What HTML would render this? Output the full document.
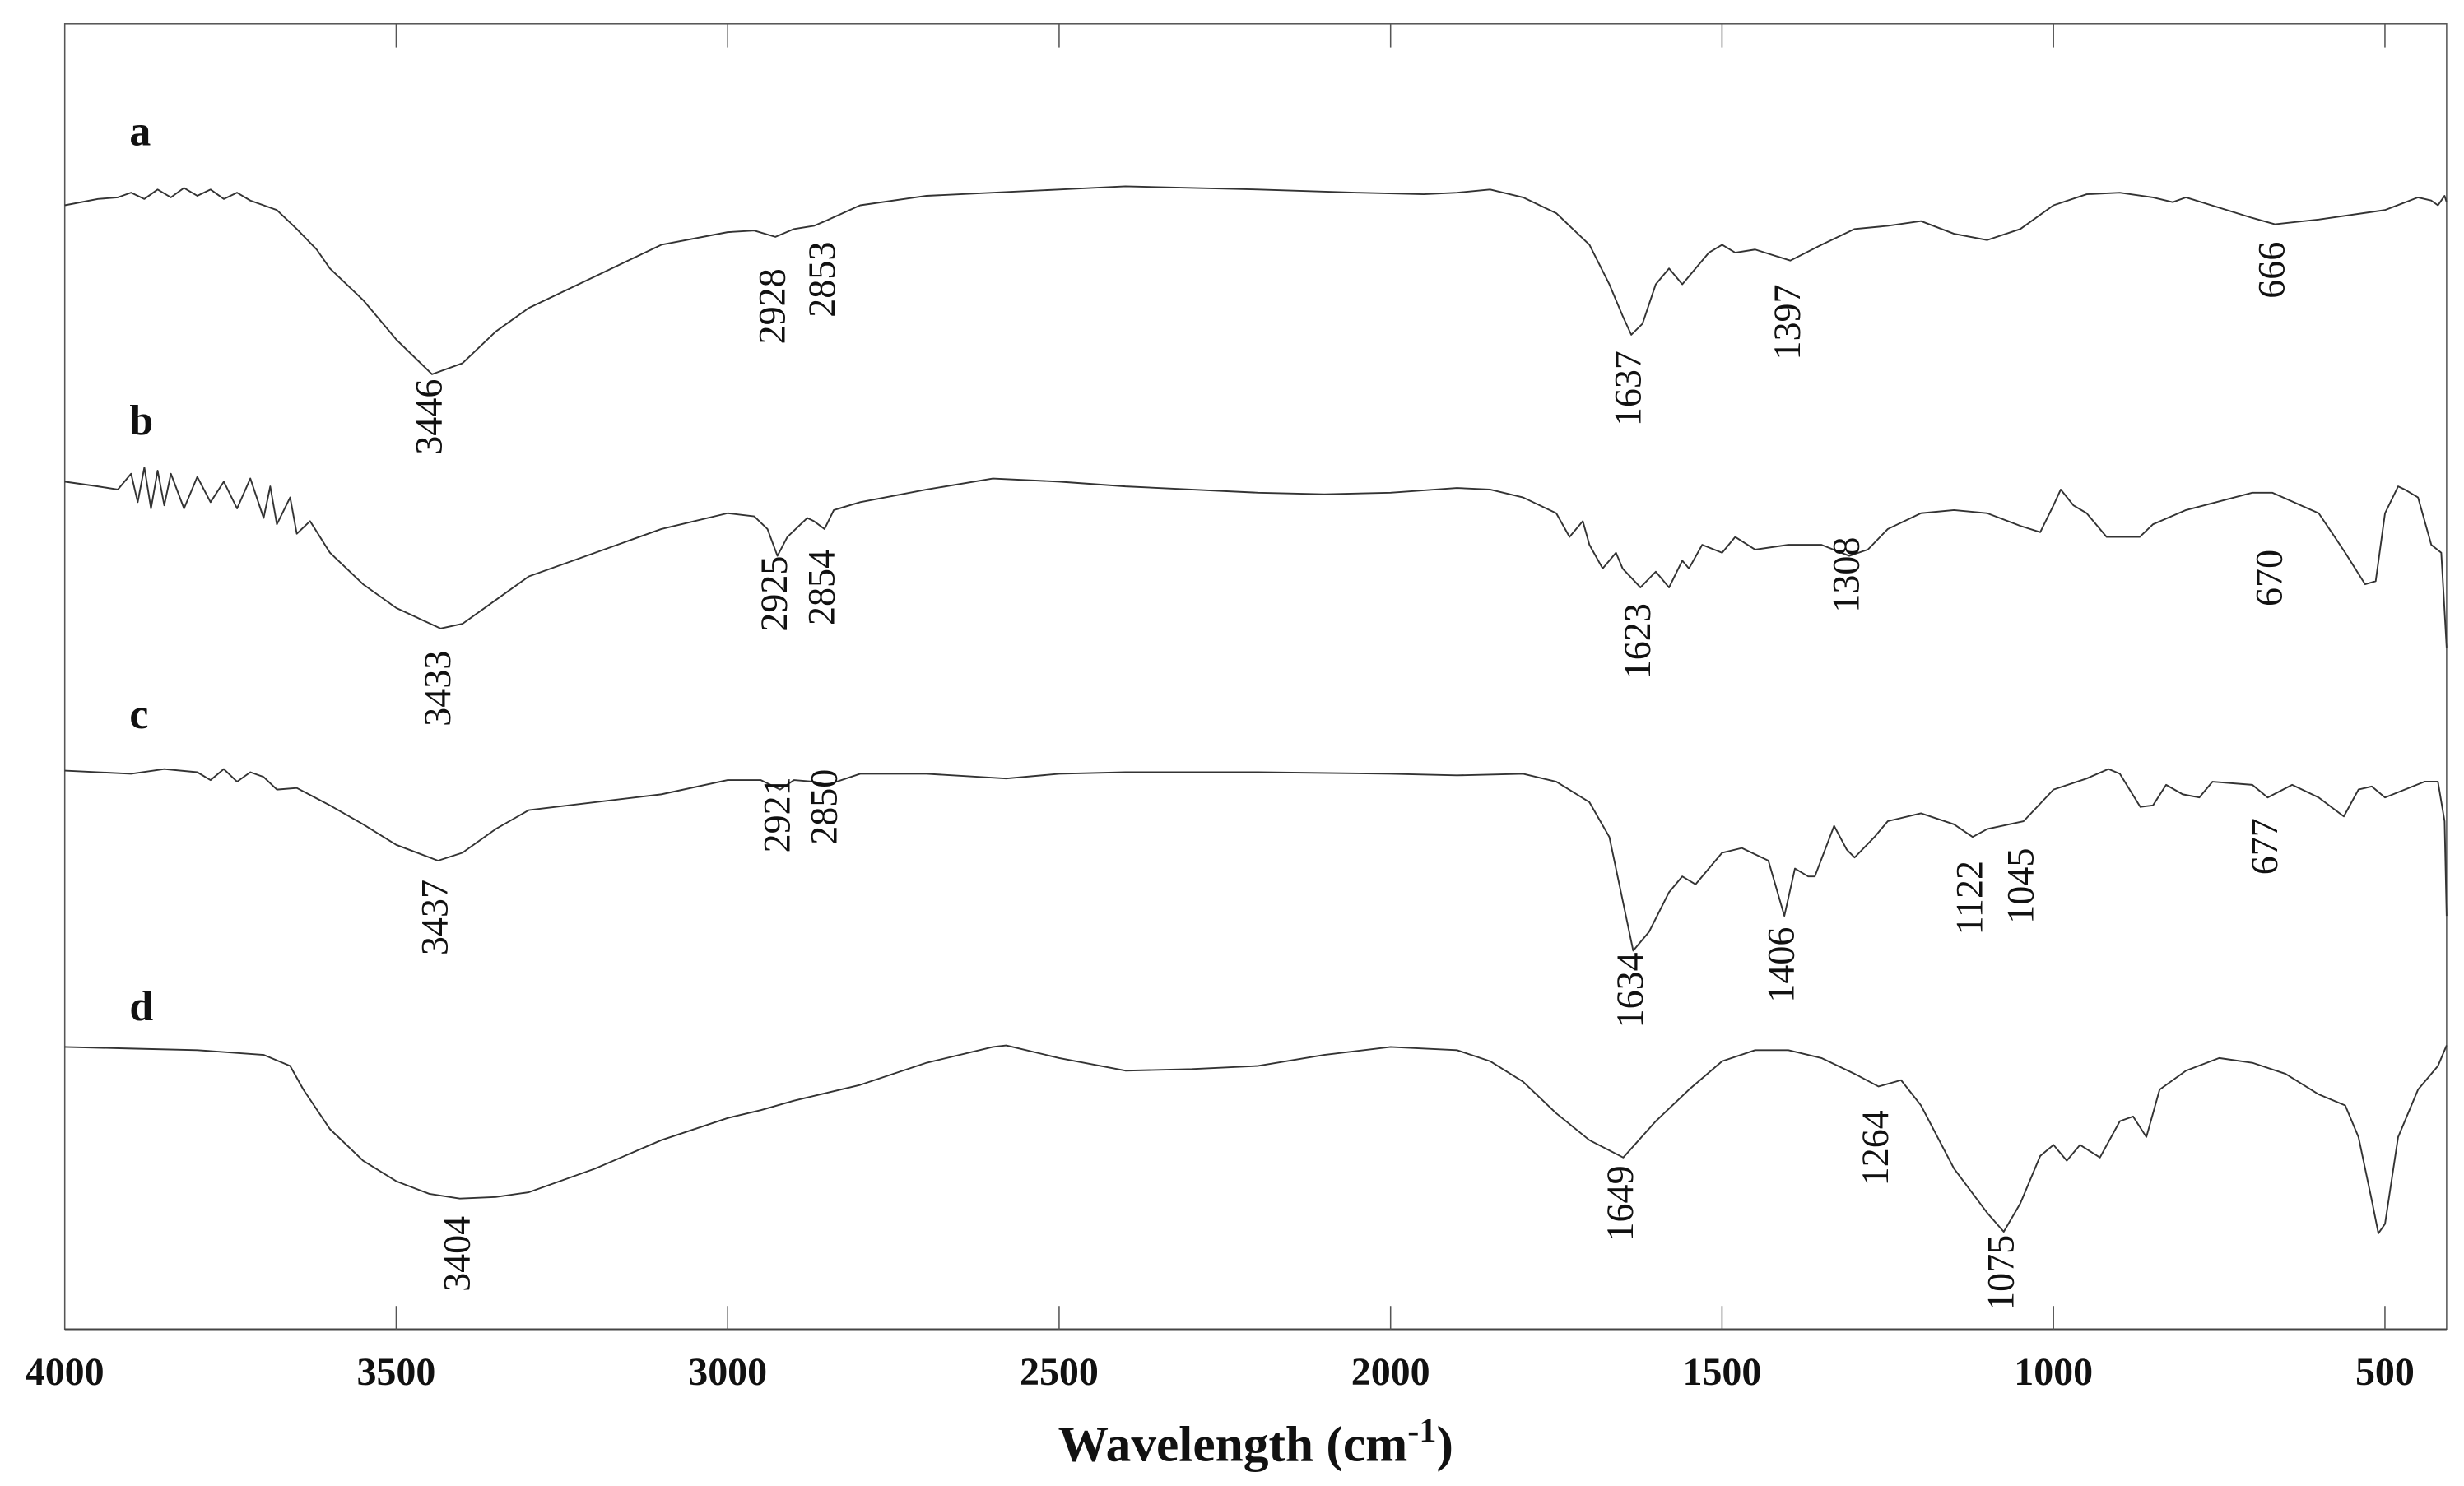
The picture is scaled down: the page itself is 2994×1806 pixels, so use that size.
<!DOCTYPE html>
<html><head><meta charset="utf-8"><style>
html,body{margin:0;padding:0;background:#fff;}
svg{display:block;}
</style></head><body>
<svg id="chart" width="2994" height="1806" viewBox="0 0 1560 941" xmlns="http://www.w3.org/2000/svg">
<rect x="0" y="0" width="1560" height="941" fill="#fff"/>
<g id="frame"></g>
<g id="series"></g>
<g id="labels"></g>
</svg>
<script>
const ticks=[3500,3000,2500,2000,1500,1000,500];
const tickLabels=["4000","3500","3000","2500","2000","1500","1000","500"];
const tickLabelValues=[4000,3500,3000,2500,2000,1500,1000,500];
const seriesNames=["a","b","c","d"];
// wavenumber / transmittance (arbitrary units) pairs per series
const waveA=[4000,3950,3920,3900,3880,3860,3840,3820,3800,3780,3760,3740,3720,3700,3680,3650,3620,3600,3550,3500,3446,3400,3350,3300,3200,3100,3000,2960,2928,2900,2870,2853,2800,2700,2500,2400,2200,2050,1950,1900,1850,1800,1750,1700,1670,1650,1637,1620,1600,1580,1560,1540,1520,1500,1480,1450,1397,1350,1300,1250,1200,1150,1100,1050,1000,950,900,850,820,800,700,666,600,500,450,430,420,410,407];
const valA=[77,77.4,77.5,77.8,77.4,78,77.5,78.1,77.6,78,77.4,77.8,77.3,77,76.7,75.5,74.2,73,71,68.5,66.3,67,69,70.5,72.5,74.5,75.3,75.4,75,75.5,75.7,76,77,77.6,78,78.2,78,77.8,77.7,77.8,78,77.5,76.5,74.5,72,70,68.8,69.5,72,73,72,73,74,74.5,74,74.2,73.5,74.5,75.5,75.7,76,75.2,74.8,75.5,77,77.7,77.8,77.5,77.2,77.5,76.2,75.8,76.1,76.7,77.5,77.3,77,77.6,77.2];
const waveB=[4000,3950,3920,3900,3890,3880,3870,3860,3850,3840,3820,3800,3780,3760,3740,3720,3700,3690,3680,3660,3650,3630,3600,3550,3500,3433,3400,3350,3300,3200,3100,3000,2960,2940,2925,2910,2880,2870,2854,2840,2800,2700,2600,2500,2400,2200,2100,2000,1900,1850,1800,1750,1730,1710,1700,1680,1660,1650,1623,1600,1580,1560,1550,1530,1500,1480,1450,1400,1350,1308,1280,1250,1200,1150,1100,1050,1020,1000,989,970,950,920,898,870,850,800,700,670,600,579,560,530,514,500,480,470,450,430,415,407];
const valB=[59.5,59.2,59,60,58.2,60.4,57.8,60.2,58,60,57.8,59.8,58.2,59.5,57.8,59.7,57.2,59.2,56.8,58.5,56.2,57,55,53,51.5,50.2,50.5,52,53.5,55,56.5,57.5,57.3,56.5,54.8,56,57.2,57,56.5,57.7,58.2,59,59.7,59.5,59.2,58.8,58.7,58.8,59.1,59,58.5,57.5,56,57,55.5,54,55,54,52.8,53.8,52.8,54.5,54,55.5,55,56,55.2,55.5,55.5,54.8,55.2,56.5,57.5,57.7,57.5,56.7,56.3,58,59,58,57.5,56,56,56,56.8,57.7,58.8,58.8,57.5,56.2,55,53,53.2,57.5,59.2,59,58.5,55.5,55,49];
const waveC=[4000,3900,3850,3800,3780,3760,3740,3720,3700,3680,3650,3600,3550,3500,3437,3400,3350,3300,3200,3100,3000,2950,2921,2900,2870,2850,2800,2700,2580,2500,2400,2200,2000,1900,1800,1750,1700,1670,1650,1634,1610,1580,1560,1540,1500,1470,1430,1406,1390,1370,1360,1331,1312,1300,1270,1250,1200,1150,1122,1100,1045,1000,950,917,900,869,850,830,805,780,760,700,677,640,600,562,540,520,500,470,440,420,410,407];
const valC=[41.2,41,41.3,41.1,40.6,41.3,40.5,41.1,40.8,40,40.1,39,37.8,36.5,35.5,36,37.5,38.7,39.2,39.7,40.6,40.6,40,40.6,40.5,40.3,41,41,40.7,41,41.1,41.1,41,40.9,41,40.5,39.2,37,33,29.8,31,33.5,34.5,34,36,36.3,35.5,32,35,34.5,34.5,37.7,36.2,35.7,37,38,38.5,37.8,37,37.5,38,40,40.7,41.3,41,38.9,39,40.3,39.7,39.5,40.5,40.3,39.5,40.3,39.5,38.3,40,40.2,39.5,40,40.5,40.5,38,32];
const waveD=[4000,3900,3800,3700,3660,3640,3600,3550,3500,3450,3404,3350,3300,3200,3100,3000,2950,2900,2800,2700,2600,2580,2500,2400,2300,2200,2100,2000,1900,1850,1800,1750,1700,1649,1600,1550,1500,1450,1400,1350,1300,1264,1230,1200,1150,1100,1075,1050,1020,1000,980,960,930,900,880,860,840,800,750,700,650,600,560,540,520,510,500,480,450,420,407];
const valD=[23.7,23.6,23.5,23.2,22.5,21,18.5,16.5,15.2,14.4,14.1,14.2,14.5,16,17.8,19.2,19.7,20.3,21.3,22.7,23.7,23.8,23,22.2,22.3,22.5,23.2,23.7,23.5,22.8,21.5,19.5,17.8,16.7,19,21,22.8,23.5,23.5,23,22,21.2,21.6,20,16,13.2,12,13.8,16.8,17.5,16.5,17.5,16.7,19,19.3,18,21,22.2,23,22.7,22,20.7,20,18,14,11.9,12.5,18,21,22.5,23.8];
const peakText=["3446","2928","2853","1637","1397","666","3433","2925","2854","1623","1308","670","3437","2921","2850","1634","1406","1122","1045","677","3404","1649","1264","1075"];
const peakWave=[3446,2928,2853,1637,1397,666,3433,2925,2854,1623,1308,670,3437,2921,2850,1634,1406,1122,1045,677,3404,1649,1264,1075];
const peakTop=[240,170,153,222,180,153,412,352,348,382,340,348,557,492,487,603,587,545,537,518,770,738,703,782];

const L=41,R=1549,T=15,B=842;
function xs(w){return L+(4000-w)*0.4197;}
function ys(v){return 900-v*10;}
const NS="http://www.w3.org/2000/svg";
function mk(tag,attrs,parent){const e=document.createElementNS(NS,tag);for(const k in attrs)e.setAttribute(k,attrs[k]);parent.appendChild(e);return e;}
const frame=document.getElementById('frame'),ser=document.getElementById('series'),lab=document.getElementById('labels');

const box=mk('rect',{x:L,y:T,width:R-L,height:B-T,fill:'none',stroke:'#555','stroke-width':0.8},frame);


const base=mk('line',{x1:L,y1:B,x2:R,y2:B,stroke:'#444','stroke-width':1.6},frame);


ticks.forEach(t=>{
  const a=mk('line',{x1:xs(t),y1:T,x2:xs(t),y2:T+15,stroke:'#555','stroke-width':0.8},frame);
  
  
  const b=mk('line',{x1:xs(t),y1:B,x2:xs(t),y2:B-15,stroke:'#555','stroke-width':0.8},frame);
  
  
});
tickLabels.forEach((s,i)=>{
  const t=mk('text',{x:xs(tickLabelValues[i]),y:877,'text-anchor':'middle','font-family':'"Liberation Serif",serif','font-weight':'bold','font-size':25,fill:'#111'},lab);
  t.textContent=s;
  
  
});
const title=mk('text',{x:795,y:925,'text-anchor':'middle','font-family':'"Liberation Serif",serif','font-weight':'bold','font-size':32,fill:'#111'},lab);
title.innerHTML='Wavelength (cm<tspan dy="-12" font-size="22">-1</tspan><tspan dy="12">)</tspan>';



const waves=[waveA,waveB,waveC,waveD],vals=[valA,valB,valC,valD];
const letterY=[92,275,461,646];
waves.forEach((w,i)=>{
  const d=w.map((x,j)=>(j?'L':'M')+xs(x).toFixed(1)+' '+ys(vals[i][j]).toFixed(1)).join(' ');
  const p=mk('path',{d:d,fill:'none',stroke:'#333','stroke-width':1,'stroke-linejoin':'round'},ser);
  
  
  const t=mk('text',{x:82,y:letterY[i],'font-family':'"Liberation Serif",serif','font-weight':'bold','font-size':27,fill:'#111'},lab);
  t.textContent=seriesNames[i];
  
  
});
peakText.forEach((s,i)=>{
  const x=xs(peakWave[i])+6,y=peakTop[i];
  const t=mk('text',{x:x,y:y,transform:'rotate(-90 '+x+' '+y+')','text-anchor':'end','font-family':'"Liberation Serif",serif','font-size':24,fill:'#111'},lab);
  t.textContent=s;
  
  
});
</script>
</body></html>
